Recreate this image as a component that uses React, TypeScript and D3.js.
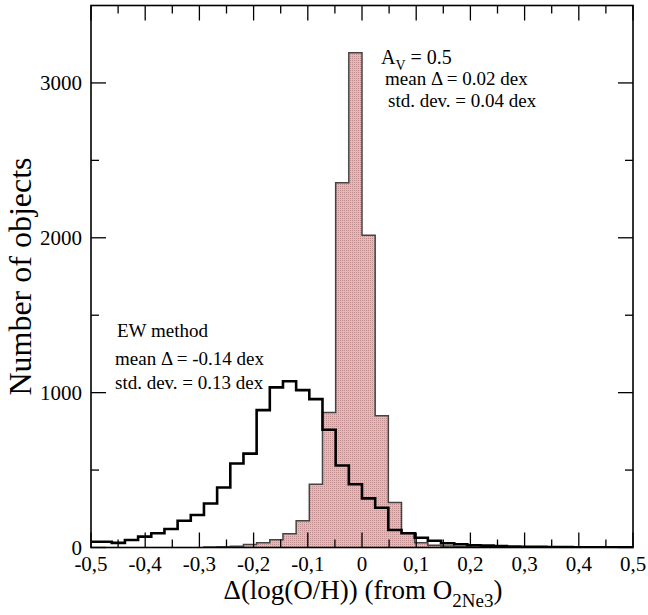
import React from "react";
import * as d3 from "d3";

// ---- data ----
const binWidth = 0.0243;
// EW method histogram: counts for bins whose left edge is (ewFirstBin + i) * binWidth
const ewFirstBin = -21;
const ewCounts = [
  37, 37, 30, 48, 70, 92, 119, 173, 210, 284, 387, 542, 606, 887, 1034, 1074,
  1016, 958, 760, 530, 408, 317, 257, 113, 92, 63, 44, 27, 21, 15, 12, 10, 6, 5,
  4, 3, 3, 2, 2, 2, 1, 1,
];
// A_V = 0.5 histogram
const avFirstBin = -12;
const avCounts = [
  3, 5, 8, 20, 30, 50, 88, 173, 408, 872, 2355, 3195, 2016, 850, 290, 92, 31,
  15, 9, 6, 4, 3, 3, 2, 2, 1, 1, 1, 1,
];
const xDomain = [-0.5, 0.5];
const yDomain = [0, 3500];
const xMajorTicks = [-0.5, -0.4, -0.3, -0.2, -0.1, 0, 0.1, 0.2, 0.3, 0.4, 0.5];
const xTickLabels = ["-0,5", "-0,4", "-0,3", "-0,2", "-0,1", "0", "0,1", "0,2", "0,3", "0,4", "0,5"];
const xMinorTicks = [-0.45, -0.35, -0.25, -0.15, -0.05, 0.05, 0.15, 0.25, 0.35, 0.45];
const yMajorTicks = [0, 1000, 2000, 3000];
const yMinorTicks = [500, 1500, 2500];
const avNotes = ["mean Δ = 0.02 dex", "std. dev. = 0.04 dex"];
const ewNotes = ["EW method", "mean Δ = -0.14 dex", "std. dev. = 0.13 dex"];

const W = 648;
const H = 615;
const L = 91, R = 633, T = 5.5, B = 547.5;
const FONT = '"Liberation Serif", "Times New Roman", Times, serif';

function toSteps(first: number, counts: number[]) {
  const pts: [number, number][] = counts.map((c, i) => [(first + i) * binWidth, c]);
  pts.push([(first + counts.length) * binWidth, counts[counts.length - 1]]);
  return pts;
}

export default function App() {
  const x = d3.scaleLinear().domain(xDomain).range([L, R]);
  const y = d3.scaleLinear().domain(yDomain).range([B, T]);

  const avPts = toSteps(avFirstBin, avCounts);
  const ewPts = toSteps(ewFirstBin, ewCounts);

  const area = d3
    .area<[number, number]>()
    .x((d) => x(d[0]))
    .y0(y(0))
    .y1((d) => y(d[1]))
    .curve(d3.curveStepAfter);
  const line = d3
    .line<[number, number]>()
    .x((d) => x(d[0]))
    .y((d) => y(d[1]))
    .curve(d3.curveStepAfter);

  const avOutline =
    `M${x(avPts[0][0])},${y(0)}` + line(avPts)!.replace(/^M/, "L") + `L${x(avPts[avPts.length - 1][0])},${y(0)}`;

  const majorLen = 15;
  const minorLen = 8;

  return (
    <svg
      width={W}
      height={H}
      style={{ position: "absolute", left: 0, top: 0, background: "#fff", fontFamily: FONT }}
    >
      <defs>
        <pattern id="dots" width={2} height={2} patternUnits="userSpaceOnUse">
          <rect width={2} height={2} fill="#dbbcbc" />
          <rect width={1} height={1} fill="#c08e8e" />
        </pattern>
        <clipPath id="plot">
          <rect x={L} y={T} width={R - L} height={B - T} />
        </clipPath>
      </defs>
      <rect x={0} y={0} width={W} height={H} fill="#fff" />

      <g clipPath="url(#plot)">
        <path d={area(avPts)!} fill="#dcbcbc" />
        <path d={area(avPts)!} fill="url(#dots)" />
        <path d={avOutline} fill="none" stroke="#444" strokeWidth={1.5} />
        <path d={line(ewPts)!} fill="none" stroke="#000" strokeWidth={2.6} strokeLinejoin="miter" />
      </g>

      {/* ticks */}
      <g stroke="#000" strokeWidth={1.3}>
        {xMajorTicks.map((t) => (
          <g key={"xm" + t}>
            <line x1={x(t)} x2={x(t)} y1={B} y2={B - majorLen} />
            <line x1={x(t)} x2={x(t)} y1={T} y2={T + majorLen} />
          </g>
        ))}
        {xMinorTicks.map((t) => (
          <g key={"xn" + t}>
            <line x1={x(t)} x2={x(t)} y1={B} y2={B - minorLen} />
            <line x1={x(t)} x2={x(t)} y1={T} y2={T + minorLen} />
          </g>
        ))}
        {yMajorTicks.map((t) => (
          <g key={"ym" + t}>
            <line x1={L} x2={L + majorLen} y1={y(t)} y2={y(t)} />
            <line x1={R} x2={R - majorLen} y1={y(t)} y2={y(t)} />
          </g>
        ))}
        {yMinorTicks.map((t) => (
          <g key={"yn" + t}>
            <line x1={L} x2={L + minorLen} y1={y(t)} y2={y(t)} />
            <line x1={R} x2={R - minorLen} y1={y(t)} y2={y(t)} />
          </g>
        ))}
      </g>

      <rect x={L} y={T} width={R - L} height={B - T} fill="none" stroke="#000" strokeWidth={1.6} />

      {/* tick labels */}
      <g fontSize={21} fill="#000">
        {xMajorTicks.map((t, i) => (
          <text key={"xl" + t} x={x(t)} y={571} textAnchor="middle">
            {xTickLabels[i]}
          </text>
        ))}
        {yMajorTicks.map((t) => (
          <text key={"yl" + t} x={82} y={y(t) + 7} textAnchor="end">
            {String(t)}
          </text>
        ))}
      </g>

      {/* axis titles */}
      <text x={363} y={599} textAnchor="middle" fontSize={27} fill="#000">
        Δ(log(O/H)) (from O
        <tspan fontSize={19} dy={8}>2Ne3</tspan>
        <tspan dy={-8}>)</tspan>
      </text>
      <text
        transform="rotate(-90)"
        x={-(T + B) / 2}
        y={31}
        textAnchor="middle"
        fontSize={32}
        fill="#000"
      >
        Number of objects
      </text>

      {/* annotations */}
      <g fontSize={19} fill="#000">
        <text x={381} y={64} fontSize={20}>
          A<tspan fontSize={14} dy={6}>V</tspan>
          <tspan dy={-6}> = 0.5</tspan>
        </text>
        <text x={385} y={85}>{avNotes[0]}</text>
        <text x={388} y={107}>{avNotes[1]}</text>
        <text x={117} y={337}>{ewNotes[0]}</text>
        <text x={115} y={365}>{ewNotes[1]}</text>
        <text x={115} y={389}>{ewNotes[2]}</text>
      </g>
    </svg>
  );
}
